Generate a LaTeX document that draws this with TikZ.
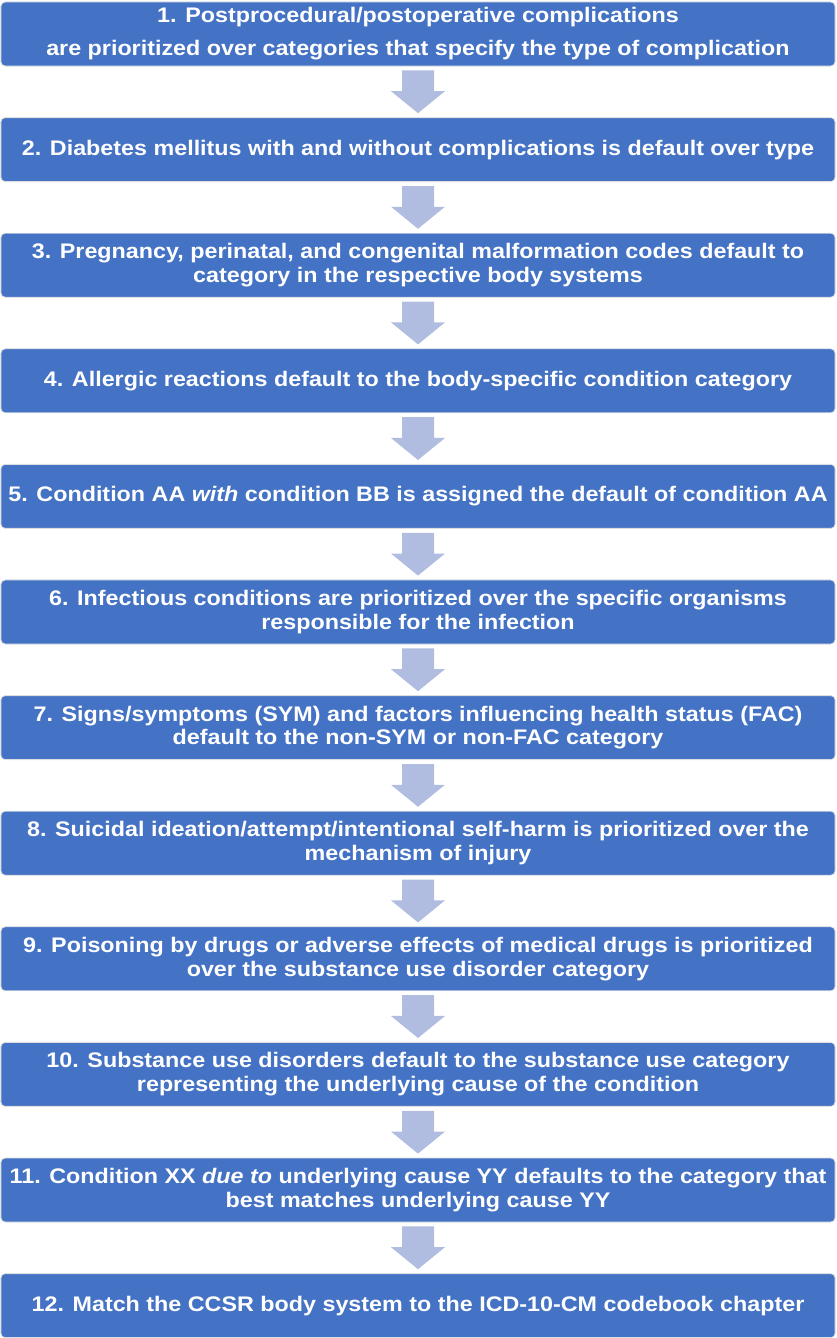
\documentclass[tikz,border=0pt]{standalone}
\usepackage{fontspec}
\setmainfont{Liberation Sans}[FakeStretch=1.105]
\usetikzlibrary{calc}
\definecolor{rulefill}{RGB}{68,114,196}
\definecolor{rulearrow}{RGB}{176,189,224}
\definecolor{ruleedge}{RGB}{220,222,226}
\tikzset{
  rulebox/.style={draw=ruleedge, line width=0.6pt, fill=rulefill, rounded corners=3pt,
    minimum width=20.85cm, minimum height=1.6cm, inner sep=0pt,
    text=white, font=\fontsize{15}{17}\selectfont\bfseries, align=center},
  downarrow/.style={fill=rulearrow}
}
\begin{document}
\begin{tikzpicture}[x=0.025cm, y=-0.025cm]
    \useasboundingbox (0,0) rectangle (836,1338);
    \node [rulebox] (b1) at (418,34.0) {1. Postprocedural/postoperative complications\\[6.5pt] are prioritized over categories that specify the type of complication};
    \node [rulebox] (b2) at (418,149.6) {2. Diabetes mellitus with and without complications is default over type};
    \node [rulebox] (b3) at (418,265.2) {3. Pregnancy, perinatal, and congenital malformation codes default to\\ category in the respective body systems};
    \node [rulebox] (b4) at (418,380.8) {4. Allergic reactions default to the body-specific condition category};
    \node [rulebox] (b5) at (418,496.4) {5. Condition AA \textit{with} condition BB is assigned the default of condition AA};
    \node [rulebox] (b6) at (418,612.0) {6. Infectious conditions are prioritized over the specific organisms\\ responsible for the infection};
    \node [rulebox] (b7) at (418,727.6) {7. Signs/symptoms (SYM) and factors influencing health status (FAC)\\ default to the non-SYM or non-FAC category};
    \node [rulebox] (b8) at (418,843.2) {8. Suicidal ideation/attempt/intentional self-harm is prioritized over the\\ mechanism of injury};
    \node [rulebox] (b9) at (418,958.8) {9. Poisoning by drugs or adverse effects of medical drugs is prioritized\\ over the substance use disorder category};
    \node [rulebox] (b10) at (418,1074.4) {10. Substance use disorders default to the substance use category\\ representing the underlying cause of the condition};
    \node [rulebox] (b11) at (418,1190.0) {11. Condition XX \textit{due to} underlying cause YY defaults to the category that\\ best matches underlying cause YY};
    \node [rulebox] (b12) at (418,1305.6) {12. Match the CCSR body system to the ICD-10-CM codebook chapter};
    % block arrows between the steps
    \foreach \i [evaluate=\i as \j using int(\i+1)] in {1,...,11}
      \fill [downarrow] ($(b\i.south)+(-16,4)$) -- ($(b\j.north)+(-16,-26)$) -- ($(b\j.north)+(-27,-26)$)
        -- ($(b\j.north)+(0,-4)$) -- ($(b\j.north)+(27,-26)$) -- ($(b\j.north)+(16,-26)$)
        -- ($(b\i.south)+(16,4)$) -- cycle;
  \end{tikzpicture}
\end{document}
